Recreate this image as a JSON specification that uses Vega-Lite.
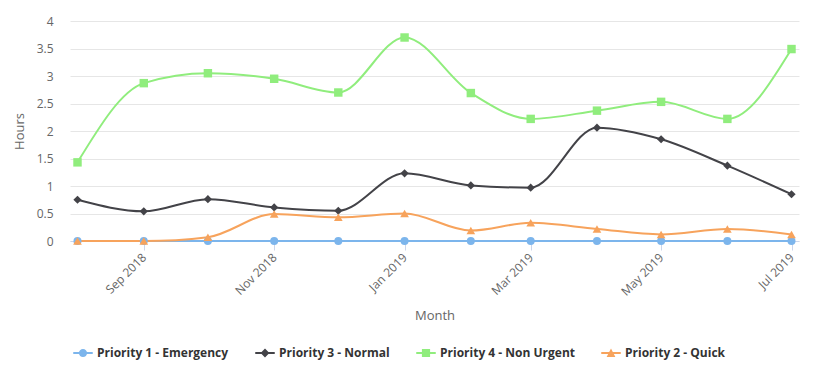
{
  "$schema": "https://vega.github.io/schema/vega-lite/v6.json",
  "width": 729,
  "height": 220,
  "autosize": "none",
  "padding": {"left": 70, "top": 21, "right": 29, "bottom": 134},
  "background": "white",
  "config": {
    "view": {"stroke": null},
    "font": "Open Sans",
    "axis": {"labelFont": "Open Sans", "titleFont": "Open Sans", "labelColor": "#666666", "titleColor": "#666666", "labelFontSize": 12, "titleFontSize": 13, "titleFontWeight": "normal"}
  },
  "data": {
    "values": [
      {"month": "2018-08-01", "series": "Priority 1 - Emergency", "hours": 0},
      {"month": "2018-09-01", "series": "Priority 1 - Emergency", "hours": 0},
      {"month": "2018-10-01", "series": "Priority 1 - Emergency", "hours": 0},
      {"month": "2018-11-01", "series": "Priority 1 - Emergency", "hours": 0},
      {"month": "2018-12-01", "series": "Priority 1 - Emergency", "hours": 0},
      {"month": "2019-01-01", "series": "Priority 1 - Emergency", "hours": 0},
      {"month": "2019-02-01", "series": "Priority 1 - Emergency", "hours": 0},
      {"month": "2019-03-01", "series": "Priority 1 - Emergency", "hours": 0},
      {"month": "2019-04-01", "series": "Priority 1 - Emergency", "hours": 0},
      {"month": "2019-05-01", "series": "Priority 1 - Emergency", "hours": 0},
      {"month": "2019-06-01", "series": "Priority 1 - Emergency", "hours": 0},
      {"month": "2019-07-01", "series": "Priority 1 - Emergency", "hours": 0},
      {"month": "2018-08-01", "series": "Priority 3 - Normal", "hours": 0.75},
      {"month": "2018-09-01", "series": "Priority 3 - Normal", "hours": 0.54},
      {"month": "2018-10-01", "series": "Priority 3 - Normal", "hours": 0.76},
      {"month": "2018-11-01", "series": "Priority 3 - Normal", "hours": 0.61},
      {"month": "2018-12-01", "series": "Priority 3 - Normal", "hours": 0.55},
      {"month": "2019-01-01", "series": "Priority 3 - Normal", "hours": 1.23},
      {"month": "2019-02-01", "series": "Priority 3 - Normal", "hours": 1.01},
      {"month": "2019-03-01", "series": "Priority 3 - Normal", "hours": 0.97},
      {"month": "2019-04-01", "series": "Priority 3 - Normal", "hours": 2.06},
      {"month": "2019-05-01", "series": "Priority 3 - Normal", "hours": 1.85},
      {"month": "2019-06-01", "series": "Priority 3 - Normal", "hours": 1.37},
      {"month": "2019-07-01", "series": "Priority 3 - Normal", "hours": 0.85},
      {"month": "2018-08-01", "series": "Priority 4 - Non Urgent", "hours": 1.43},
      {"month": "2018-09-01", "series": "Priority 4 - Non Urgent", "hours": 2.87},
      {"month": "2018-10-01", "series": "Priority 4 - Non Urgent", "hours": 3.05},
      {"month": "2018-11-01", "series": "Priority 4 - Non Urgent", "hours": 2.95},
      {"month": "2018-12-01", "series": "Priority 4 - Non Urgent", "hours": 2.7},
      {"month": "2019-01-01", "series": "Priority 4 - Non Urgent", "hours": 3.7},
      {"month": "2019-02-01", "series": "Priority 4 - Non Urgent", "hours": 2.69},
      {"month": "2019-03-01", "series": "Priority 4 - Non Urgent", "hours": 2.22},
      {"month": "2019-04-01", "series": "Priority 4 - Non Urgent", "hours": 2.37},
      {"month": "2019-05-01", "series": "Priority 4 - Non Urgent", "hours": 2.53},
      {"month": "2019-06-01", "series": "Priority 4 - Non Urgent", "hours": 2.22},
      {"month": "2019-07-01", "series": "Priority 4 - Non Urgent", "hours": 3.49},
      {"month": "2018-08-01", "series": "Priority 2 - Quick", "hours": 0},
      {"month": "2018-09-01", "series": "Priority 2 - Quick", "hours": 0},
      {"month": "2018-10-01", "series": "Priority 2 - Quick", "hours": 0.07},
      {"month": "2018-11-01", "series": "Priority 2 - Quick", "hours": 0.49},
      {"month": "2018-12-01", "series": "Priority 2 - Quick", "hours": 0.43},
      {"month": "2019-01-01", "series": "Priority 2 - Quick", "hours": 0.5},
      {"month": "2019-02-01", "series": "Priority 2 - Quick", "hours": 0.19},
      {"month": "2019-03-01", "series": "Priority 2 - Quick", "hours": 0.33},
      {"month": "2019-04-01", "series": "Priority 2 - Quick", "hours": 0.22},
      {"month": "2019-05-01", "series": "Priority 2 - Quick", "hours": 0.12},
      {"month": "2019-06-01", "series": "Priority 2 - Quick", "hours": 0.22},
      {"month": "2019-07-01", "series": "Priority 2 - Quick", "hours": 0.12}
    ]
  },
  "encoding": {
    "x": {
      "field": "month", "type": "temporal", "title": "Month",
      "scale": {"nice": false, "padding": 7.5},
      "axis": {
        "values": [{"year": 2018, "month": 9, "date": 1}, {"year": 2018, "month": 11, "date": 1}, {"year": 2019, "month": 1, "date": 1}, {"year": 2019, "month": 3, "date": 1}, {"year": 2019, "month": 5, "date": 1}, {"year": 2019, "month": 7, "date": 1}],
        "format": "%b %Y", "labelAngle": -45, "labelAlign": "right", "labelBaseline": "middle",
        "labelPadding": 5, "labelOffset": 0,
        "domainColor": "#ccd6eb", "tickColor": "#ccd6eb", "tickSize": 9,
        "grid": false, "titlePadding": 12
      }
    },
    "y": {
      "field": "hours", "type": "quantitative", "title": "Hours",
      "scale": {"domain": [0, 4], "nice": false},
      "axis": {
        "values": [0, 0.5, 1, 1.5, 2, 2.5, 3, 3.5, 4], "format": "~g",
        "domain": false, "ticks": false, "labelPadding": 17,
        "gridColor": "#e6e6e6", "titlePadding": 10
      }
    }
  },
  "layer": [
    {
      "mark": {"type": "line", "interpolate": "monotone", "strokeWidth": 2},
      "encoding": {
        "color": {"field": "series", "type": "nominal", "legend": null,
          "scale": {"domain": ["Priority 1 - Emergency", "Priority 3 - Normal", "Priority 4 - Non Urgent", "Priority 2 - Quick"], "range": ["#7cb5ec", "#434348", "#90ed7d", "#f7a35c"]}},
        "detail": {"field": "series"}
      }
    },
    {
      "mark": {"type": "point", "filled": true, "opacity": 1},
      "encoding": {
        "color": {"field": "series", "type": "nominal", "legend": null,
          "scale": {"domain": ["Priority 1 - Emergency", "Priority 3 - Normal", "Priority 4 - Non Urgent", "Priority 2 - Quick"], "range": ["#7cb5ec", "#434348", "#90ed7d", "#f7a35c"]}},
        "size": {"field": "series", "type": "nominal", "legend": null,
          "scale": {"domain": ["Priority 1 - Emergency", "Priority 3 - Normal", "Priority 4 - Non Urgent", "Priority 2 - Quick"], "range": [64, 75, 95, 85]}},
        "shape": {"field": "series", "type": "nominal", "legend": null,
          "scale": {"domain": ["Priority 1 - Emergency", "Priority 3 - Normal", "Priority 4 - Non Urgent", "Priority 2 - Quick"], "range": ["circle", "diamond", "square", "triangle-up"]}}
      }
    },
    {
      "transform": [{"filter": "false"}],
      "mark": {"type": "point", "filled": true, "opacity": 1},
      "encoding": {
        "color": {"field": "series", "type": "nominal",
          "scale": {"domain": ["Priority 1 - Emergency", "Priority 3 - Normal", "Priority 4 - Non Urgent", "Priority 2 - Quick"], "range": ["#7cb5ec", "#434348", "#90ed7d", "#f7a35c"]},
          "legend": {"title": null, "orient": "none", "legendX": 3, "legendY": 322, "direction": "horizontal",
            "symbolOpacity": 1, "symbolSize": 380, "symbolStrokeWidth": 0,
            "labelFont": "Open Sans", "labelFontSize": 12, "labelFontWeight": "bold", "labelColor": "#333333",
            "labelOffset": 4, "columnPadding": 26, "labelLimit": 300}},
        "shape": {"field": "series", "type": "nominal",
          "scale": {"domain": ["Priority 1 - Emergency", "Priority 3 - Normal", "Priority 4 - Non Urgent", "Priority 2 - Quick"],
            "range": ["M-1,-0.1H1V0.1H-1Z M0.42,0 A0.42,0.42 0 1,1 -0.42,0 A0.42,0.42 0 1,1 0.42,0Z", "M-1,-0.1H1V0.1H-1Z M0,-0.45L0.45,0L0,0.45L-0.45,0Z", "M-1,-0.1H1V0.1H-1Z M-0.42,-0.42H0.42V0.42H-0.42Z", "M-1,-0.1H1V0.1H-1Z M0,-0.45L0.45,0.4H-0.45Z"]}}
      }
    }
  ],
  "resolve": {"scale": {"shape": "independent", "color": "independent", "size": "independent"}, "legend": {"shape": "independent", "color": "independent", "size": "independent"}}
}
